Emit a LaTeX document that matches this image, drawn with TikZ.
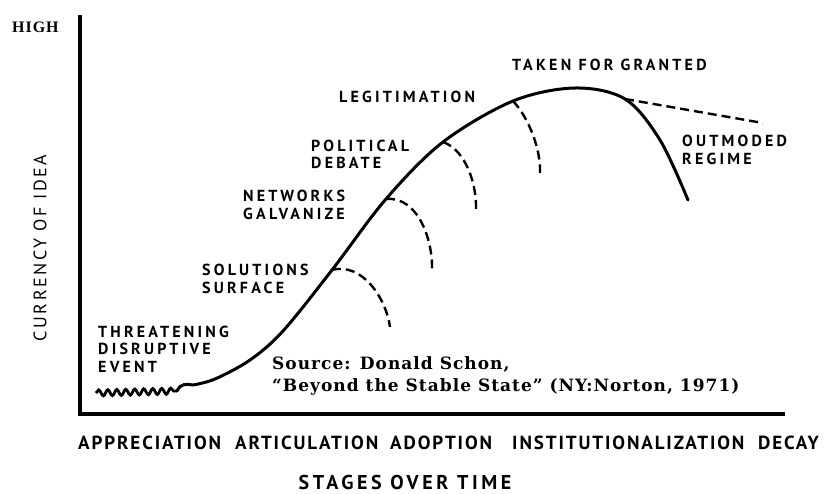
\documentclass[tikz,border=0pt]{standalone}
\usepackage{fontspec}
\usetikzlibrary{decorations.pathmorphing}
\newfontfamily\labfont[LetterSpace=20]{PT Sans}
\newfontfamily\stagefont[LetterSpace=10]{PT Sans}
\newfontfamily\axfont[LetterSpace=14]{PT Sans}
\newfontfamily\xlfont[LetterSpace=18]{PT Sans}
\newfontfamily\srcfont[LetterSpace=6]{DejaVu Serif}
\newfontfamily\highfont[LetterSpace=6]{Liberation Serif}
\tikzset{
  lbl/.style={anchor=west, inner sep=0pt, align=left, font=\labfont\bfseries\fontsize{16}{17.5}\selectfont},
  stage/.style={anchor=west, inner sep=0pt, font=\stagefont\bfseries\fontsize{19}{20}\selectfont},
  axis/.style={line width=3.2pt, line join=miter},
  maincurve/.style={line width=3pt, line cap=round},
  branch/.style={line width=2.4pt, dash pattern=on 9pt off 5pt},
}
\begin{document}
\begin{tikzpicture}[x=1pt, y=-1pt]
\path[use as bounding box] (0,0) rectangle (825,493);
% axes
\coordinate (ytop) at (80,15);
\coordinate (orig) at (80,414);
\coordinate (xend) at (785,414);
\draw[axis] (ytop) -- (orig) -- (xend);
% axis labels
\node[anchor=west, inner sep=0pt, font=\highfont\bfseries\fontsize{16}{18}\selectfont] (high) at (12,27) {HIGH};
\node[rotate=90, inner sep=0pt, font=\axfont\fontsize{18}{20}\selectfont] (yl) at (40,248) {CURRENCY OF IDEA};
\node[anchor=base, inner sep=0pt, font=\xlfont\bfseries\fontsize{20}{22}\selectfont] (xl) at (405,489) {STAGES OVER TIME};
% stages
\node[stage] (s1) at (78,443) {APPRECIATION};
\node[stage] (s2) at (235,443) {ARTICULATION};
\node[stage] (s3) at (390,443) {ADOPTION};
\node[stage] (s4) at (512,443) {INSTITUTIONALIZATION};
\node[stage] (s5) at (758,443) {DECAY};
% curve points
\coordinate (w0) at (96,393);
\coordinate (w1) at (177,391);
\coordinate (c0) at (193,385);
\coordinate (S1) at (332,270);
\coordinate (S2) at (386,199);
\coordinate (S3) at (443,142);
\coordinate (S4) at (513,101);
\coordinate (top) at (575,88);
\coordinate (S5) at (625,99);
\coordinate (cend) at (688,200);
% wavy start
\draw[line width=2.8pt, decorate, decoration={snake, amplitude=3pt, segment length=9pt}] (w0) -- (w1);
\draw[maincurve] (w1) .. controls (181,383) and (186,384) .. (c0)
  plot[smooth, tension=0.55] coordinates {(c0) (215,379) (250,360) (283,331) (S1) (S2) (S3) (S4) (top) (S5) (660,140) (cend)};
% dashed branches
\coordinate (e1) at (390,327);
\coordinate (e2) at (432,270);
\coordinate (e3) at (476,210);
\coordinate (e4) at (540,173);
\coordinate (e5) at (763,123);
\draw[branch] (S1) .. controls (362,262) and (386,298) .. (e1);
\draw[branch] (S2) .. controls (418,196) and (433,240) .. (e2);
\draw[branch] (S3) .. controls (466,150) and (477,185) .. (e3);
\draw[branch] (S4) .. controls (529,118) and (541,150) .. (e4);
\draw[branch] (S5) -- (e5);
% labels
\node[lbl] (threat) at (98,349) {THREATENING\\DISRUPTIVE\\EVENT};
\node[lbl] (sol) at (202,279) {SOLUTIONS\\SURFACE};
\node[lbl] (net) at (243,205) {NETWORKS\\GALVANIZE};
\node[lbl] (pol) at (311,154.5) {POLITICAL\\DEBATE};
\node[lbl] (leg) at (339,97) {LEGITIMATION};
\node[lbl] (tfg) at (512,65) {TAKEN FOR GRANTED};
\node[lbl] (out) at (682,150) {OUTMODED\\REGIME};
\node[anchor=west, inner sep=0pt, align=left, font=\srcfont\bfseries\fontsize{17}{22}\selectfont] (src) at (272,376) {Source: Donald Schon,\\“Beyond the Stable State” (NY:Norton, 1971)};
\end{tikzpicture}
\end{document}
